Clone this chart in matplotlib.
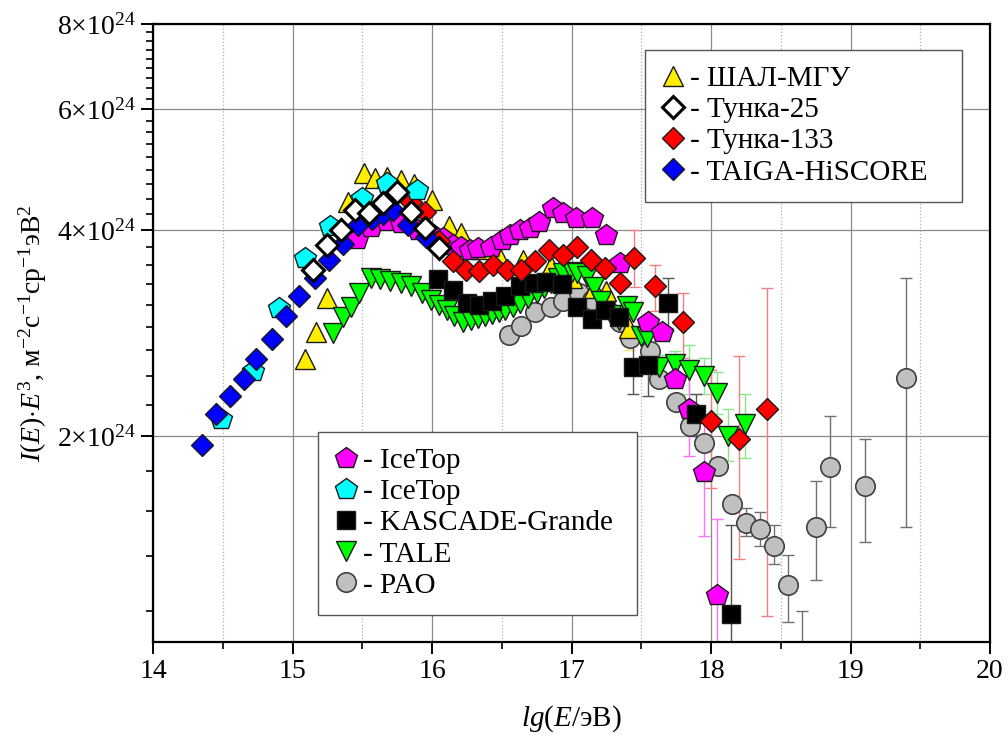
import numpy as np
import matplotlib
matplotlib.use('Agg')
import matplotlib.pyplot as plt
from matplotlib.lines import Line2D
from matplotlib.ticker import FixedLocator, FuncFormatter, MultipleLocator, NullFormatter

plt.rcParams['font.family'] = ['Liberation Serif', 'DejaVu Serif']
plt.rcParams['mathtext.fontset'] = 'custom'
plt.rcParams['mathtext.rm'] = 'Liberation Serif'
plt.rcParams['mathtext.it'] = 'Liberation Serif:italic'

# values: lg(E/eV) and I(E)*E^3 in units of 1e24; nan = no error bar
shal_x = [15.09, 15.17, 15.25, 15.40, 15.51, 15.59, 15.68, 15.78, 15.87, 16.00, 16.12, 16.21,
          16.35, 16.49, 16.65, 16.85, 17.00, 17.16, 17.25, 17.41]
shal_y = [2.59, 2.84, 3.18, 4.40, 4.84, 4.76, 4.78, 4.73, 4.67, 4.42, 4.05, 3.96,
          3.75, 3.64, 3.62, 3.54, 3.40, 3.29, 3.26, 2.88]
shal_lo = [np.nan]*19 + [2.67]
shal_hi = [np.nan]*19 + [3.05]

tunka25_x = [15.15, 15.25, 15.35, 15.45, 15.55, 15.65, 15.75, 15.85, 15.95, 16.05]
tunka25_y = [3.50, 3.80, 4.00, 4.28, 4.23, 4.38, 4.55, 4.25, 4.03, 3.76]

tunka133_x = [15.85, 15.95, 16.05, 16.15, 16.24, 16.34, 16.44, 16.54, 16.64, 16.74, 16.84, 16.94,
              17.04, 17.14, 17.24, 17.35, 17.45, 17.60, 17.80, 18.00, 18.20, 18.40]
tunka133_y = [4.40, 4.25, 3.85, 3.60, 3.50, 3.48, 3.56, 3.50, 3.50, 3.60, 3.74, 3.68,
              3.78, 3.62, 3.52, 3.35, 3.64, 3.31, 2.93, 2.10, 1.98, 2.19]
tunka133_lo = [np.nan]*16 + [3.30, 3.05, 2.60, 1.68, 1.32, 1.09]
tunka133_hi = [np.nan]*16 + [4.00, 3.55, 3.24, 2.50, 2.62, 3.29]

taiga_x = [14.35, 14.45, 14.55, 14.65, 14.74, 14.85, 14.95, 15.05, 15.16, 15.26, 15.36,
           15.47, 15.57, 15.65, 15.72, 15.83, 15.96]
taiga_y = [1.94, 2.15, 2.29, 2.42, 2.59, 2.77, 2.99, 3.20, 3.40, 3.62, 3.82,
           4.07, 4.15, 4.22, 4.28, 4.07, 3.91]

icetop_x = [15.46, 15.56, 15.68, 15.78, 15.90, 16.00, 16.08, 16.15, 16.21, 16.27, 16.33, 16.42,
            16.50, 16.56, 16.63, 16.70, 16.77, 16.87, 16.94, 17.03, 17.15, 17.25, 17.35,
            17.55, 17.65, 17.74, 17.84, 17.95, 18.04]
icetop_y = [3.88, 4.04, 4.12, 4.10, 4.00, 3.95, 3.89, 3.80, 3.78, 3.74, 3.76, 3.78,
            3.87, 3.93, 4.00, 4.03, 4.11, 4.30, 4.23, 4.16, 4.16, 3.93, 3.58,
            2.93, 2.84, 2.42, 2.19, 1.77, 1.17]
icetop_lo = [np.nan]*26 + [1.87, 1.43, 0.50]
icetop_hi = [np.nan]*26 + [2.50, 2.15, 1.51]

icetop2_x = [14.49, 14.72, 14.90, 15.09, 15.27, 15.50, 15.68, 15.89]
icetop2_y = [2.12, 2.49, 3.08, 3.64, 4.05, 4.45, 4.68, 4.58]

kg_x = [16.04, 16.15, 16.25, 16.34, 16.43, 16.52, 16.63, 16.73, 16.82, 16.93, 17.04, 17.15,
        17.24, 17.34, 17.44, 17.55, 17.69, 17.89, 18.14]
kg_y = [3.39, 3.27, 3.13, 3.11, 3.15, 3.20, 3.31, 3.35, 3.36, 3.33, 3.09, 2.96,
        3.06, 2.98, 2.52, 2.54, 3.13, 2.15, 1.10]
kg_lo = [np.nan]*14 + [2.30, 2.29, 2.85, 2.00, 0.50]
kg_hi = [np.nan]*14 + [2.75, 2.80, 3.40, 2.30, 1.48]

tale_x = [15.29, 15.36, 15.42, 15.48, 15.56, 15.63, 15.70, 15.78, 15.85, 15.93, 15.99, 16.05,
          16.11, 16.16, 16.22, 16.28, 16.33, 16.38, 16.43, 16.48, 16.52, 16.58, 16.63, 16.69,
          16.75, 16.80, 16.85, 16.90, 16.94, 17.00, 17.04, 17.11, 17.16, 17.21, 17.28, 17.34,
          17.40, 17.44, 17.50, 17.54, 17.63, 17.74, 17.84, 17.95, 18.04, 18.12, 18.24]
tale_y = [2.83, 2.98, 3.09, 3.24, 3.40, 3.39, 3.37, 3.35, 3.31, 3.24, 3.16, 3.11,
          3.06, 2.99, 2.93, 2.95, 2.97, 2.99, 3.01, 3.03, 3.06, 3.09, 3.13, 3.18,
          3.24, 3.29, 3.35, 3.40, 3.46, 3.47, 3.46, 3.42, 3.30, 3.15, 3.00, 2.95,
          3.10, 3.04, 2.80, 2.79, 2.52, 2.55, 2.50, 2.45, 2.31, 2.00, 2.08]
tale_lo = [np.nan]*40 + [2.42, 2.45, 2.30, 2.30, 2.15, 1.84, 1.86]
tale_hi = [np.nan]*40 + [2.63, 2.66, 2.72, 2.60, 2.48, 2.19, 2.30]

pao_x = [16.55, 16.64, 16.74, 16.85, 16.94, 17.05, 17.15, 17.25, 17.35, 17.42, 17.56, 17.63,
         17.75, 17.85, 17.95, 18.05, 18.15, 18.25, 18.35, 18.45, 18.55, 18.65, 18.75, 18.85,
         19.10, 19.40]
pao_y = [2.81, 2.90, 3.03, 3.09, 3.15, 3.24, 3.16, 3.09, 2.93, 2.78, 2.66, 2.42,
         2.24, 2.07, 1.95, 1.81, 1.59, 1.49, 1.46, 1.38, 1.21, 0.90, 1.47, 1.80,
         1.69, 2.43]
pao_lo = [np.nan]*17 + [1.43, 1.38, 1.30, 1.07, 0.50, 1.23, 1.47, 1.40, 1.47]
pao_hi = [np.nan]*17 + [1.57, 1.55, 1.48, 1.34, 1.11, 1.72, 2.14, 1.98, 3.40]

labels_top = ['- ШАЛ-МГУ', '- Тунка-25', '- Тунка-133', '- TAIGA-HiSCORE']
labels_bot = ['- IceTop', '- IceTop', '- KASCADE-Grande', '- TALE', '- PAO']

yellow = '#ffee00'
red = '#ff0000'
blue = '#0000ff'
magenta = '#ff00ff'
cyan = '#00ffff'
green = '#00ff00'
grey = '#c0c0c0'

fig = plt.figure(figsize=(10.08, 7.45), dpi=100)
ax = fig.add_axes([0.1518, 0.1383, 0.8304, 0.8296])


def bars(x, y, lo, hi, color):
    x, y, lo, hi = map(np.asarray, (x, y, lo, hi))
    m = np.isfinite(lo)
    ax.errorbar(x[m], y[m], yerr=[y[m] - lo[m], hi[m] - y[m]], fmt='none',
                ecolor=color, elinewidth=1, capsize=4.5, capthick=1, zorder=1.5)


bars(shal_x, shal_y, shal_lo, shal_hi, '#f3e27a')
bars(pao_x, pao_y, pao_lo, pao_hi, '#707070')
bars(tale_x, tale_y, tale_lo, tale_hi, '#88e888')
bars(icetop_x, icetop_y, icetop_lo, icetop_hi, '#ff70ff')
bars(kg_x, kg_y, kg_lo, kg_hi, '#555555')
bars(tunka133_x, tunka133_y, tunka133_lo, tunka133_hi, '#f08080')

# markers, bottom to top
st = dict(ls='none', mec='#1a1a1a', mew=1.0)
ax.plot(pao_x, pao_y, marker='o', ms=14, mfc=grey, mec='#404040', ls='none', mew=1.2, zorder=2)
ax.plot(shal_x, shal_y, marker='^', ms=15, mfc=yellow, zorder=3, **st)
ax.plot(tale_x, tale_y, marker='v', ms=15, mfc=green, zorder=4, **st)
ax.plot(icetop_x, icetop_y, marker='p', ms=16, mfc=magenta, zorder=5, **st)
ax.plot(kg_x, kg_y, marker='s', ms=13, mfc='black', zorder=6, **st)
ax.plot(tunka133_x, tunka133_y, marker='D', ms=11.5, mfc=red, zorder=7, **st)
ax.plot(icetop2_x, icetop2_y, marker='p', ms=16, mfc=cyan, zorder=8, **st)
ax.plot(taiga_x, taiga_y, marker='D', ms=11.5, mfc=blue, zorder=9, **st)
ax.plot(tunka25_x, tunka25_y, marker='D', ms=11.5, mfc='white', mec='black', mew=2.2,
        ls='none', zorder=10)

ax.set_xlim(14, 20)
ax.set_yscale('log')
ax.set_ylim(1.0, 8.0)
ax.xaxis.set_major_locator(MultipleLocator(1))
ax.xaxis.set_minor_locator(MultipleLocator(0.5))
ax.yaxis.set_major_locator(FixedLocator([2, 4, 6, 8]))
ax.yaxis.set_minor_locator(FixedLocator([k * 2 / 9 for k in range(5, 36) if k % 9]))
ax.yaxis.set_major_formatter(FuncFormatter(lambda v, p: r'$%d{\times}10^{24}$' % round(v)))
ax.yaxis.set_minor_formatter(NullFormatter())
ax.tick_params(which='major', direction='out', length=8.5, width=1.4, labelsize=20, pad=4)
ax.tick_params(which='minor', direction='out', length=5, width=1.2)
ax.grid(which='major', color='#8a8a8a', lw=0.9)
ax.grid(which='minor', axis='x', color='#b0b0b0', ls=':', lw=0.9)
ax.set_axisbelow(True)
for s in ax.spines.values():
    s.set_linewidth(1.6)

ax.set_xlabel(r'$lg$($E$/эВ)', fontsize=21, labelpad=14)
ax.set_ylabel(r'$I$($E$)$\cdot E^3$, м$^{-2}$с$^{-1}$ср$^{-1}$эВ$^2$', fontsize=20, labelpad=6)

h_top = [Line2D([], [], marker='^', ms=15, mfc=yellow, **st),
         Line2D([], [], marker='D', ms=11.5, mfc='white', mec='black', mew=2.2, ls='none'),
         Line2D([], [], marker='D', ms=11.5, mfc=red, **st),
         Line2D([], [], marker='D', ms=11.5, mfc=blue, **st)]
h_bot = [Line2D([], [], marker='p', ms=16, mfc=magenta, **st),
         Line2D([], [], marker='p', ms=16, mfc=cyan, **st),
         Line2D([], [], marker='s', ms=13, mfc='black', **st),
         Line2D([], [], marker='v', ms=15, mfc=green, **st),
         Line2D([], [], marker='o', ms=14, mfc=grey, mec='#404040', mew=1.2, ls='none')]

lk = dict(loc='upper left', mode='expand', fontsize=21, frameon=True, fancybox=False,
          edgecolor='#555555', framealpha=1, handlelength=0.8, handletextpad=0.2,
          labelspacing=0.16, borderpad=0.55, borderaxespad=0)
leg1 = ax.legend(h_top, labels_top, bbox_to_anchor=(0.588, 0.948, 0.379, 0.01), **lk)
leg1.get_frame().set_linewidth(1.0)
leg1.set_zorder(20)
ax.add_artist(leg1)
leg2 = ax.legend(h_bot, labels_bot, bbox_to_anchor=(0.197, 0.330, 0.381, 0.01), **lk)
leg2.get_frame().set_linewidth(1.0)
leg2.set_zorder(20)

fig.savefig('out.png', dpi=100)
